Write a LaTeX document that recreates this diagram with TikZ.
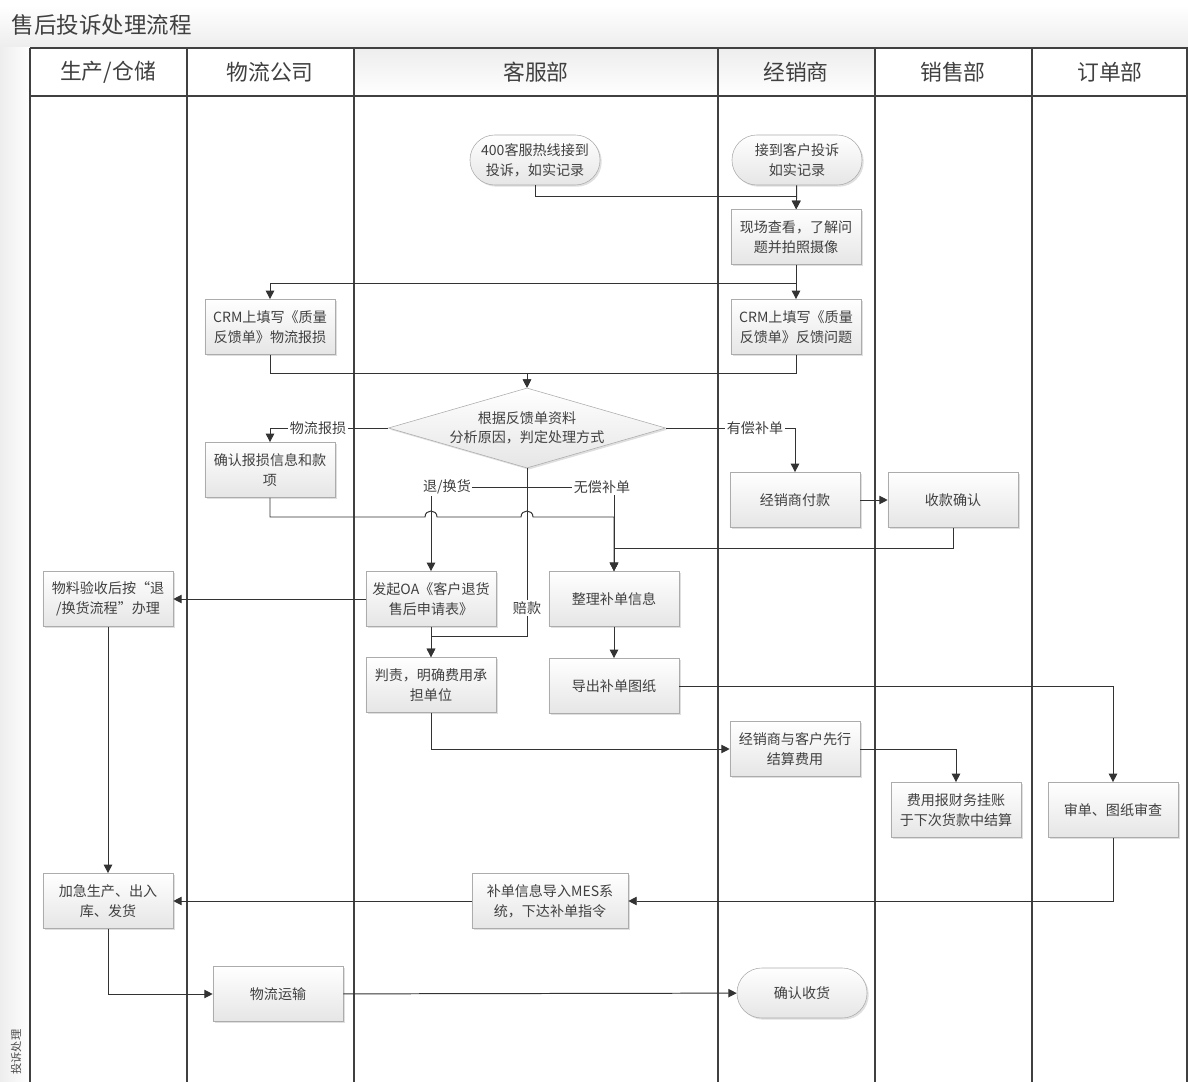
\documentclass[tikz,border=0pt]{standalone}
\usepackage{fontspec}
\setmainfont{Noto Sans CJK SC}
\usetikzlibrary{arrows.meta,shapes.geometric,shadows}

\tikzset{
  proc/.style={draw=gray!65, top color=white, bottom color=gray!20,
    drop shadow={opacity=0.25, shadow xshift=1.2pt, shadow yshift=-1.2pt},
    align=center, text=black!75, font=\fontsize{10}{14}\selectfont,
    minimum width=3.25cm, minimum height=1.38cm, inner sep=2pt},
  term/.style={proc, rounded corners=0.62cm, minimum height=1.25cm},
  decide/.style={proc, diamond, aspect=3.45, inner sep=0pt, minimum width=6.93cm, minimum height=2cm},
  flow/.style={draw=black!80, line width=0.7pt, -{Triangle[length=6pt,width=6pt]}},
  lbl/.style={fill=white, inner sep=1pt, text=black!75, font=\fontsize{10}{12}\selectfont},
  lane/.style={draw=black!75, line width=1.2pt},
  head/.style={text=black!75, font=\fontsize{15.5}{17}\selectfont},
}

\begin{document}
\begin{tikzpicture}[x=0.025cm, y=-0.025cm]
\useasboundingbox (0,0) rectangle (1188,1082);

\fill[top color=white, bottom color=gray!14] (0,5) rectangle (1188,48);
\fill[left color=gray!14, right color=white] (0,48) rectangle (30,1082);
\fill[top color=gray!14, bottom color=white] (354,48) rectangle (875,96);
\node[anchor=west, text=black!75, font=\fontsize{16}{18}\selectfont] (title) at (7,25) {售后投诉处理流程};
\node[rotate=90, text=black!70, font=\fontsize{8}{10}\selectfont] (side) at (16,1052) {投诉处理};

\draw[lane] (30,48) -- (1188,48);
\draw[lane] (30,96) -- (1188,96);
\foreach \lx in {30,187,354,718,875,1032,1187}
  \draw[lane] (\lx,48) -- (\lx,1082);

\node[head] (h1) at (108,72) {生产/仓储};
\node[head] (h2) at (270,72) {物流公司};
\node[head] (h3) at (536,72) {客服部};
\node[head] (h4) at (796,72) {经销商};
\node[head] (h5) at (953,72) {销售部};
\node[head] (h6) at (1110,72) {订单部};

\node[term] (hotline) at (535,160) {400客服热线接到\\投诉，如实记录};
\node[term] (receive) at (797,160) {接到客户投诉\\如实记录};
\node[proc] (survey) at (796,237) {现场查看，了解问\\题并拍照摄像};
\node[proc] (crmdealer) at (796,327) {CRM上填写《质量\\反馈单》反馈问题};
\node[proc] (crmlogi) at (270,327) {CRM上填写《质量\\反馈单》物流报损};
\node[decide] (judge) at (527,428) {根据反馈单资料\\分析原因，判定处理方式};
\node[proc] (confirmloss) at (270,470) {确认报损信息和款\\项};
\node[proc] (dealerpay) at (795,500) {经销商付款};
\node[proc] (payok) at (953,500) {收款确认};
\node[proc] (oaform) at (431,599) {发起OA《客户退货\\售后申请表》};
\node[proc] (sortinfo) at (614,599) {整理补单信息};
\node[proc] (returnflow) at (108,599) {物料验收后按“退\\/换货流程”办理};
\node[proc] (blame) at (431,685) {判责，明确费用承\\担单位};
\node[proc] (drawing) at (614,686) {导出补单图纸};
\node[proc] (settle) at (795,749) {经销商与客户先行\\结算费用};
\node[proc] (finance) at (956,810) {费用报财务挂账\\于下次货款中结算};
\node[proc] (review) at (1113,810) {审单、图纸审查};
\node[proc] (rush) at (108,901) {加急生产、出入\\库、发货};
\node[proc, minimum width=3.9cm] (mes) at (550,901) {补单信息导入MES系\\统，下达补单指令};
\node[proc] (ship) at (278,994) {物流运输};
\node[term] (gotit) at (802,993) {确认收货};

\draw[flow] (hotline.south) -- (535,196) -| (survey.north);
\draw[flow] (receive) -- (survey);
\draw[flow] (survey.south) -- (796,283) -| (crmlogi.north);
\draw[flow] (survey) -- (crmdealer);
\draw[flow] (crmlogi.south) -- (270,373) -| (judge.north);
\draw[flow] (crmdealer.south) -- (796,373) -| (judge.north);
\draw[flow] (judge.west) -| (confirmloss.north);
\draw[flow] (judge.east) -| (dealerpay.north);
\draw[flow] (dealerpay) -- (payok);
\draw[flow] (judge.south) -- (527,487) -| (oaform.north);
\draw[flow] (judge.south) -- (527,487) -| (sortinfo.north);
\draw[flow] (judge.south) -- (527,636) -| (blame.north);
\draw[flow] (oaform) -- (blame);
\draw[flow] (confirmloss.south) -- (270,517) -- (425,517) .. controls (425,509) and (437,509) .. (437,517)
  -- (521,517) .. controls (521,509) and (533,509) .. (533,517) -- (614,517) -- (sortinfo.north);
\draw[flow] (payok.south) -- (953,548) -| (sortinfo.north);
\draw[flow] (oaform) -- (returnflow);
\draw[flow] (sortinfo) -- (drawing);
\draw[flow] (drawing.east) -| (review.north);
\draw[flow] (blame.south) |- (settle.west);
\draw[flow] (settle.east) -| (finance.north);
\draw[flow] (review.south) |- (mes.east);
\draw[flow] (mes) -- (rush);
\draw[flow] (returnflow) -- (rush);
\draw[flow] (rush.south) |- (ship.west);
\draw[flow] (ship) -- (gotit);

\node[lbl] (lloss) at (318,428) {物流报损};
\node[lbl] (lpaid) at (755,428) {有偿补单};
\node[lbl] (lreturn) at (447,487) {退/换货};
\node[lbl] (lfree) at (602,487) {无偿补单};
\node[lbl] (lcomp) at (527,608) {赔款};
\end{tikzpicture}
\end{document}
